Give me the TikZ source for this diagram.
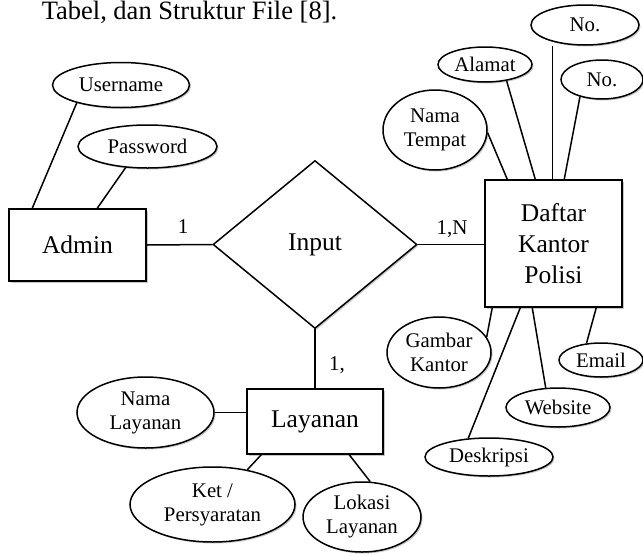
\documentclass[tikz,border=0pt]{standalone}
\usepackage{fontspec}
\setmainfont{Liberation Serif}
\usetikzlibrary{shapes.geometric,shadows,calc}
\newcommand\erbig{\fontsize{25.5}{31}\selectfont}
\newcommand\ersmall{\fontsize{20.8}{24}\selectfont}
\begin{document}
\begin{tikzpicture}[x=1pt,y=-1pt,line width=1.5pt,
  sh/.style={drop shadow={shadow xshift=1.5pt,shadow yshift=-1.5pt,fill=black,opacity=0.22}},
  ent/.style={draw,fill=white,rectangle,inner sep=0pt,font=\erbig,align=center,sh},
  attr/.style={draw,fill=white,ellipse,inner sep=0pt,font=\ersmall,align=center,sh},
  rel/.style={draw,fill=white,diamond,inner sep=0pt,font=\erbig,sh},
  card/.style={font=\fontsize{21}{25}\selectfont,inner sep=0pt}]
\useasboundingbox (0,0) rectangle (643,555);
\node[anchor=base west,inner sep=0pt,font=\fontsize{26.5}{30}\selectfont] (cap) at (41,19.5) {Tabel, dan Struktur File [8].};
% entities and relationship
\node[ent,minimum width=137pt,minimum height=72pt] (admin) at (77.5,245) {Admin};
\node[ent,minimum width=137pt,minimum height=127pt] (daftar) at (553.5,243.5) {Daftar\\Kantor\\Polisi};
\node[ent,minimum width=136pt,minimum height=65pt] (lay) at (315,421.5) {Layanan};
\node[rel,minimum width=204pt,minimum height=168pt] (input) at (315,244.5) {Input};
% attributes
\node[attr,minimum width=137pt,minimum height=45pt] (user) at (121,85) {Username};
\node[attr,minimum width=139pt,minimum height=43pt] (pass) at (147.5,146.5) {Password};
\node[attr,minimum width=108pt,minimum height=40pt] (noa) at (585,25) {No.};
\node[attr,minimum width=82pt,minimum height=39pt] (nob) at (602,79.5) {No.};
\node[attr,minimum width=94pt,minimum height=35pt] (alamat) at (485,64.5) {Alamat};
\node[attr,minimum width=104pt,minimum height=80pt] (tempat) at (435,130) {Nama\\Tempat};
\node[attr,minimum width=104pt,minimum height=71pt] (gambar) at (439,352.5) {Gambar\\Kantor};
\node[attr,minimum width=128pt,minimum height=38pt] (desk) at (489,457) {Deskripsi};
\node[attr,minimum width=104pt,minimum height=39pt] (web) at (558,407.5) {Website};
\node[attr,minimum width=84pt,minimum height=34pt] (email) at (601,360) {Email};
\node[attr,minimum width=137pt,minimum height=71pt] (namalay) at (145.5,412.5) {Nama\\Layanan};
\node[attr,minimum width=165pt,minimum height=75pt] (ket) at (212.5,504.5) {Ket /\\Persyaratan};
\node[attr,minimum width=118pt,minimum height=70pt] (lokasi) at (362,517) {Lokasi\\Layanan};
% connectors
\draw (admin.east) -- (input.west);
\draw (input.east) -- (input.east -| daftar.west);
\draw (input.south) -- (lay.north);
\draw (user.202) -- ([xshift=24pt]admin.north west);
\draw (pass.224) -- ([xshift=89pt]admin.north west);
\draw (tempat.357) -- ([xshift=23pt]daftar.north west);
\draw (alamat.323) -- ([xshift=51pt]daftar.north west);
\draw (noa.south -| {$(daftar.north west)+(68,0)$}) -- ([xshift=68pt]daftar.north west);
\draw (nob.218) -- ([xshift=80pt]daftar.north west);
\draw (gambar.18) -- ([xshift=8pt]daftar.south west);
\draw (desk.138) -- ([xshift=36pt]daftar.south west);
\draw (web.122) -- ([xshift=48pt]daftar.south west);
\draw (email.131) -- ([xshift=112pt]daftar.south west);
\draw (namalay.east) -- (namalay.east -| lay.west);
\draw (ket.45) -- ([xshift=15pt]lay.south west);
\draw (lokasi.77) -- ([xshift=103pt]lay.south west);
% cardinalities
\node[card] (c1) at (183,227) {1};
\node[card] (c2) at (452,229) {1,N};
\node[card] (c3) at (337,365) {1,};
\end{tikzpicture}
\end{document}
